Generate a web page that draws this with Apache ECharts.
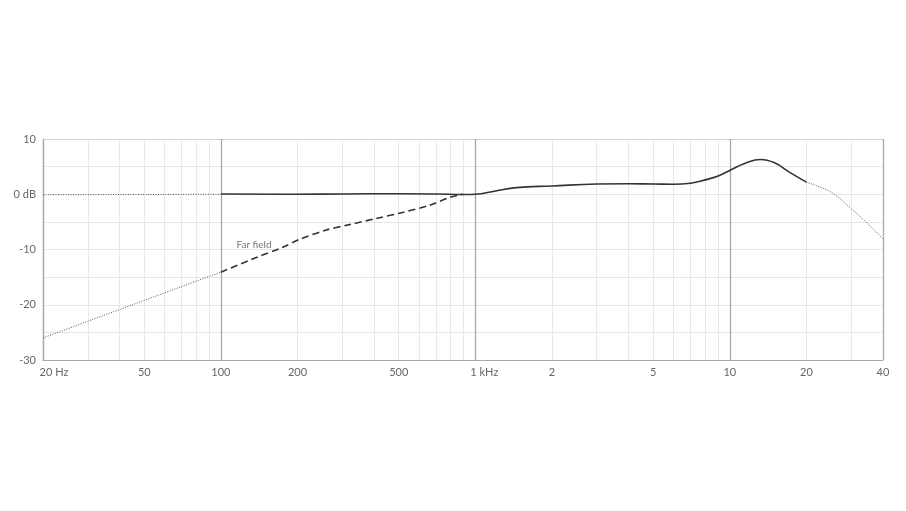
<!DOCTYPE html>
<html>
<head>
<meta charset="utf-8">
<title>Frequency response</title>
<script src="https://cdn.jsdelivr.net/npm/echarts@6/dist/echarts.min.js"></script>
<style>
  html, body { margin: 0; padding: 0; background: #fff; }
  #chart { width: 906px; height: 511px; }
</style>
</head>
<body>
<div id="chart"></div>
<script>
// frequency response, near field (solid) and far field (dashed)
const mainFreq = [100, 200, 300, 500, 700, 900, 1000, 1200, 1450, 2000, 3000, 4000, 5000, 6000, 7000, 8000, 9000, 10000, 11500, 13200, 15000, 17000, 20000];
const mainDb = [0.05, 0, 0.05, 0.1, 0.05, -0.05, 0, 0.6, 1.2, 1.5, 1.85, 1.9, 1.85, 1.8, 2.0, 2.6, 3.3, 4.3, 5.6, 6.3, 5.7, 4.1, 2.2];

const lowFreq = [20, 100];
const lowDb = [-0.1, 0];

const highFreq = [20000, 25000, 30000, 35000, 40000];
const highDb = [2.2, 0.4, -2.6, -5.4, -8.1];

const farLowFreq = [20, 50, 100];
const farLowDb = [-26, -19.2, -14.1];

const farFreq = [100, 137, 175, 203, 258, 320, 406, 518, 660, 790, 893];
const farDb = [-14.1, -11.5, -9.6, -8.2, -6.5, -5.5, -4.4, -3.3, -2.0, -0.6, 0];

const farLabel = { freq: 135, db: -9.1, text: 'Far field' };

const xLabelValues = [20, 50, 100, 200, 500, 1000, 2000, 5000, 10000, 20000, 40000];
const xLabelText = { 20: '20 Hz', 1000: '1 kHz', 2000: '2', 5000: '5', 10000: '10', 20000: '20', 40000: '40' };
const majorLines = [20, 100, 1000, 10000, 40000];
const minorLines = [30, 40, 50, 60, 70, 80, 90, 200, 300, 400, 500, 600, 700, 800, 900,
  2000, 3000, 4000, 5000, 6000, 7000, 8000, 9000, 20000, 30000];

const FONT = 'Lato, "Open Sans", sans-serif';
const chart = echarts.init(document.getElementById('chart'), null, { renderer: 'canvas' });

function pairs(xs, ys) {
  return xs.map((x, i) => [x, ys[i]]);
}

function xLabel(value) {
  if (value === 20) return '{u|20 Hz}';
  if (value === 1000) return '{k|1 kHz}';
  return xLabelText[value] || String(value);
}

// y split lines: -30 .. 10 step 5, top edge a bit darker
const ySplitColors = ['#e6e6e6', '#e6e6e6', '#e6e6e6', '#e6e6e6', '#e6e6e6', '#e6e6e6', '#e6e6e6', '#e6e6e6', '#d2d2d2'];

const option = {
  animation: false,
  backgroundColor: '#fff',
  grid: { left: 43, right: 23, top: 139, bottom: 151 },
  xAxis: [
    {
      type: 'log',
      logBase: 10,
      min: 20,
      max: 40000,
      axisLine: { show: true, onZero: false, lineStyle: { color: '#a8a8a8', width: 1.2 } },
      axisTick: { show: false, customValues: minorLines },
      axisLabel: {
        customValues: xLabelValues,
        color: '#666',
        fontFamily: FONT,
        fontSize: 11,
        margin: 7,
        formatter: xLabel,
        rich: {
          u: { color: '#666', fontFamily: FONT, fontSize: 11, padding: [0, 0, 0, 22] },
          k: { color: '#666', fontFamily: FONT, fontSize: 11, padding: [0, 0, 0, 18] },
        },
      },
      splitLine: { show: true, lineStyle: { color: '#e8e8e8', width: 1 } },
    },
    {
      type: 'log',
      logBase: 10,
      min: 20,
      max: 40000,
      position: 'bottom',
      axisLine: { show: false, onZero: false },
      axisTick: { show: false, customValues: majorLines },
      axisLabel: { show: false },
      splitLine: { show: true, lineStyle: { color: '#a8a8a8', width: 1.3 } },
    },
  ],
  yAxis: {
    type: 'value',
    min: -30,
    max: 10,
    interval: 5,
    axisLine: { show: true, onZero: false, lineStyle: { color: '#a8a8a8', width: 1.2 } },
    axisTick: { show: false },
    axisLabel: {
      color: '#666',
      fontFamily: FONT,
      fontSize: 11,
      margin: 7,
      formatter: (v) => {
        if (v % 10 !== 0) return '';
        return v === 0 ? '0 dB' : String(v);
      },
    },
    splitLine: { show: true, lineStyle: { color: ySplitColors, width: 1 } },
  },
  series: [
    {
      type: 'line',
      name: 'low',
      data: pairs(lowFreq, lowDb),
      showSymbol: false,
      lineStyle: { color: '#555', width: 1, type: [1, 1.5] },
    },
    {
      type: 'line',
      name: 'main',
      data: pairs(mainFreq, mainDb),
      showSymbol: false,
      smooth: 0.45,
      lineStyle: { color: '#333', width: 1.6 },
    },
    {
      type: 'line',
      name: 'high',
      data: pairs(highFreq, highDb),
      showSymbol: false,
      smooth: 0.3,
      lineStyle: { color: '#555', width: 1, type: [1, 1.5] },
    },
    {
      type: 'line',
      name: 'farLow',
      data: pairs(farLowFreq, farLowDb),
      showSymbol: false,
      lineStyle: { color: '#555', width: 1, type: [1, 1.5] },
    },
    {
      type: 'line',
      name: 'far',
      data: pairs(farFreq, farDb),
      showSymbol: false,
      smooth: 0.3,
      lineStyle: { color: '#333', width: 1.6, type: [7, 4] },
      markPoint: {
        symbol: 'circle',
        symbolSize: 0,
        silent: true,
        label: {
          show: true,
          position: 'inside',
          color: '#777',
          fontFamily: FONT,
          fontSize: 10,
          formatter: farLabel.text,
        },
        data: [{ coord: [farLabel.freq, farLabel.db] }],
      },
    },
  ],
};

chart.setOption(option);
window.addEventListener('resize', () => chart.resize());
</script>
</body>
</html>
